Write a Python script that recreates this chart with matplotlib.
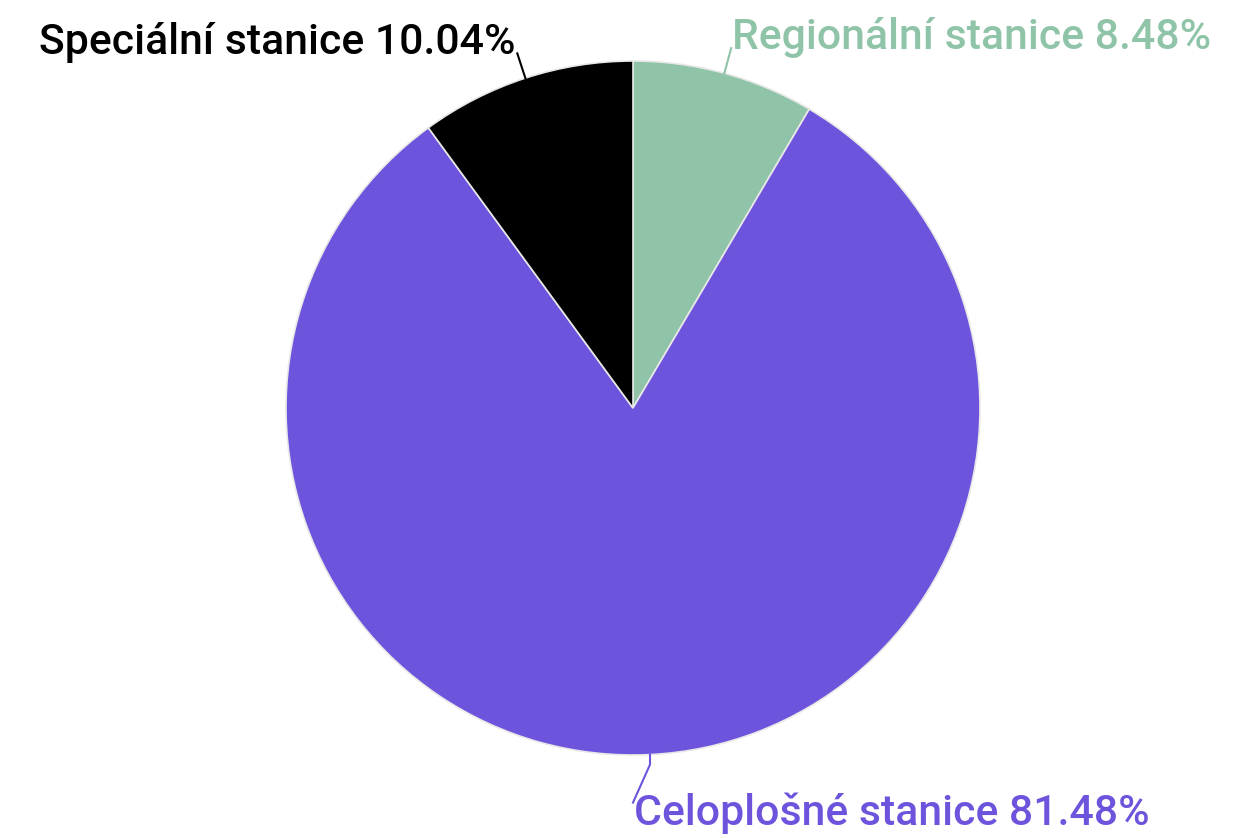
import numpy as np
import matplotlib
matplotlib.use("Agg")
import matplotlib.pyplot as plt
from matplotlib import font_manager as fm

labels = ["Regionální stanice", "Celoplošné stanice", "Speciální stanice"]
values = [8.48, 81.48, 10.04]
colors = ["#8fc4a8", "#6e54dc", "#000000"]
text_colors = ["#8fc4a8", "#6e54dc", "#000000"]

FS = 30.8
# pick upright Roboto Medium if available
fp = None
for f in sorted(fm.findSystemFonts()):
    name = f.split("/")[-1].lower()
    if name.startswith("roboto") and "medium" in name and "italic" not in name \
            and "condensed" not in name and "mono" not in name and "slab" not in name:
        fp = fm.FontProperties(fname=f, size=FS)
        break
if fp is None:
    fp = fm.FontProperties(family="Roboto", weight="medium", style="normal", size=FS)

W, H = 1252, 838
fig = plt.figure(figsize=(W / 100, H / 100), dpi=100)
ax = fig.add_axes([0, 0, 1, 1])

cx, cy, r = 633, H - 408, 347
wedges, _ = ax.pie(values, colors=colors, startangle=90, counterclock=False,
                   center=(cx, cy), radius=r, frame=True,
                   wedgeprops=dict(edgecolor="#e8e8e8", linewidth=1.2))
ax.set_xlim(0, W)
ax.set_ylim(0, H)
ax.set_aspect("equal")
ax.axis("off")

for i, w in enumerate(wedges):
    mid = np.deg2rad((w.theta1 + w.theta2) / 2)
    ux, uy = np.cos(mid), np.sin(mid)
    x0, y0 = cx + r * ux, cy + r * uy
    txt = f"{labels[i]} {values[i]:.2f}%"
    if i == 0:
        x1, y1 = cx + (r + 26) * ux, cy + (r + 26) * uy
        ax.plot([x0, x1], [y0, y1], color=colors[i], lw=1.5)
        ax.text(x1 + 1, y1 - 1, txt, color=text_colors[i], ha="left", va="baseline",
                fontproperties=fp)
    elif i == 2:
        x1, y1 = cx + (r + 26) * ux, cy + (r + 26) * uy
        ax.plot([x0, x1], [y0, y1], color=colors[i], lw=1.5)
        ax.text(x1 - 2, y1 - 1, txt, color=text_colors[i], ha="right", va="baseline",
                fontproperties=fp)
    else:
        x1, y1 = x0, y0 - 10
        x2, y2 = x1 - 17, y1 - 38
        ax.plot([x0, x1, x2], [y0, y1, y2], color=colors[i], lw=1.5)
        ax.text(x2 + 1, H - 825, txt, color=text_colors[i], ha="left", va="baseline",
                fontproperties=fp)

fig.savefig("out.png", dpi=100, facecolor="white")
